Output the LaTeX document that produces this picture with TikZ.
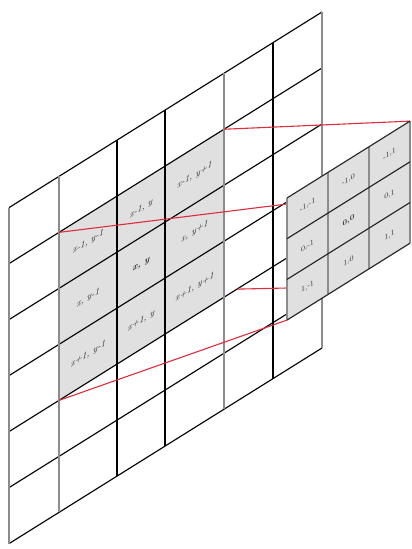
\documentclass[tikz,border=0pt]{standalone}
\usetikzlibrary{calc}
\definecolor{linered}{RGB}{222,45,60}
\definecolor{cellgray}{RGB}{224,224,224}
\definecolor{vgray}{RGB}{140,140,140}
\newcommand\By[2]{12+56*(#1)+0.625*(322-(#2))}
\newcommand\Ky[2]{198+40.7*(#1)-0.625*((#2)-287)}
\begin{document}
\begin{tikzpicture}[x=1pt,y=-1pt,
  gline/.style={line width=1.15pt, black},
  vblack/.style={line width=1.15pt, black},
  vlight/.style={line width=1.15pt, vgray},
  redline/.style={line width=1.1pt, linered},
  lab/.style={font=\fontsize{9}{10}\selectfont\itshape, yslant=0.625, transform shape, inner sep=0pt, text=black!85},
  klab/.style={font=\fontsize{7.5}{8}\selectfont, yslant=0.625, transform shape, inner sep=0pt, text=black!80},
]
\useasboundingbox (0,0) rectangle (412,549);
\fill[white] (0,0) rectangle (412,549);

% big grid shading
\fill[cellgray] (59,{\By{1}{59}}) -- (224,{\By{1}{224}}) -- (224,{\By{4}{224}}) -- (59,{\By{4}{59}}) -- cycle;

% skew lines
\foreach \k in {0,...,6}
  \draw[gline] (9,{\By{\k}{9}}) -- (322,{\By{\k}{322}});
% vertical lines
\foreach \x in {9,59,224,322}
  \draw[vlight] (\x,{\By{0}{\x}}) -- (\x,{\By{6}{\x}});
\foreach \x in {117,165,273}
  \draw[vblack] (\x,{\By{0}{\x}}) -- (\x,{\By{6}{\x}});

% labels of big grid
\node[lab] (c11) at (88,{\By{1.5}{88}}) {x-1, y-1};
\node[lab] (c21) at (88,{\By{2.5}{88}}) {x, y-1};
\node[lab] (c31) at (88,{\By{3.5}{88}}) {x+1, y-1};
\node[lab] (c12) at (141,{\By{1.5}{141}}) {x-1, y};
\node[lab,font=\fontsize{9}{10}\selectfont\bfseries\itshape] (c22) at (141,{\By{2.5}{141}}) {x, y};
\node[lab] (c32) at (141,{\By{3.5}{141}}) {x+1, y};
\node[lab] (c13) at (194.5,{\By{1.5}{194.5}}) {x-1, y+1};
\node[lab] (c23) at (194.5,{\By{2.5}{194.5}}) {x, y+1};
\node[lab] (c33) at (194.5,{\By{3.5}{194.5}}) {x+1, y+1};

% connector end points
\coordinate (gTR) at (224,{\By{1}{224}});
\coordinate (gTL) at (59,{\By{1}{59}});
\coordinate (gBR) at (237,{\By{4}{237}});
\coordinate (gBL) at (59,{\By{4}{59}});
\coordinate (kTR) at (410,{\Ky{0}{410}});
\coordinate (kTLe) at (287,204);
\coordinate (kBRe) at (287,288);
\coordinate (kBL) at (287,{\Ky{3}{287}});

\draw[redline] (gTR) -- (kTR);
\draw[redline] (gTL) -- (kTLe);
\draw[redline] (gBR) -- (kBRe);
\draw[redline] (gBL) -- (kBL);

% kernel
\fill[cellgray] (287,{\Ky{0}{287}}) -- (410,{\Ky{0}{410}}) -- (410,{\Ky{3}{410}}) -- (287,{\Ky{3}{287}}) -- cycle;
\foreach \x in {328,369}
  \draw[vlight] (\x,{\Ky{0}{\x}}) -- (\x,{\Ky{3}{\x}});
\draw[vlight] (287,{\Ky{0}{287}}) -- (287,{\Ky{3}{287}});
\draw[vlight] (410,{\Ky{0}{410}}) -- (410,{\Ky{3}{410}});
\foreach \k in {0,...,3}
  \draw[line width=1.15pt, black!85] (287,{\Ky{\k}{287}}) -- (410,{\Ky{\k}{410}});

\node[klab] (k11) at (307.5,{\Ky{0.5}{307.5}}) {-1,-1};
\node[klab] (k21) at (307.5,{\Ky{1.5}{307.5}}) {0,-1};
\node[klab] (k31) at (307.5,{\Ky{2.5}{307.5}}) {1,-1};
\node[klab] (k12) at (348.5,{\Ky{0.5}{348.5}}) {-1,0};
\node[klab,font=\fontsize{7.5}{8}\selectfont\bfseries] (k22) at (348.5,{\Ky{1.5}{348.5}}) {0,0};
\node[klab] (k32) at (348.5,{\Ky{2.5}{348.5}}) {1,0};
\node[klab] (k13) at (389.5,{\Ky{0.5}{389.5}}) {-1,1};
\node[klab] (k23) at (389.5,{\Ky{1.5}{389.5}}) {0,1};
\node[klab] (k33) at (389.5,{\Ky{2.5}{389.5}}) {1,1};
\end{tikzpicture}
\end{document}
